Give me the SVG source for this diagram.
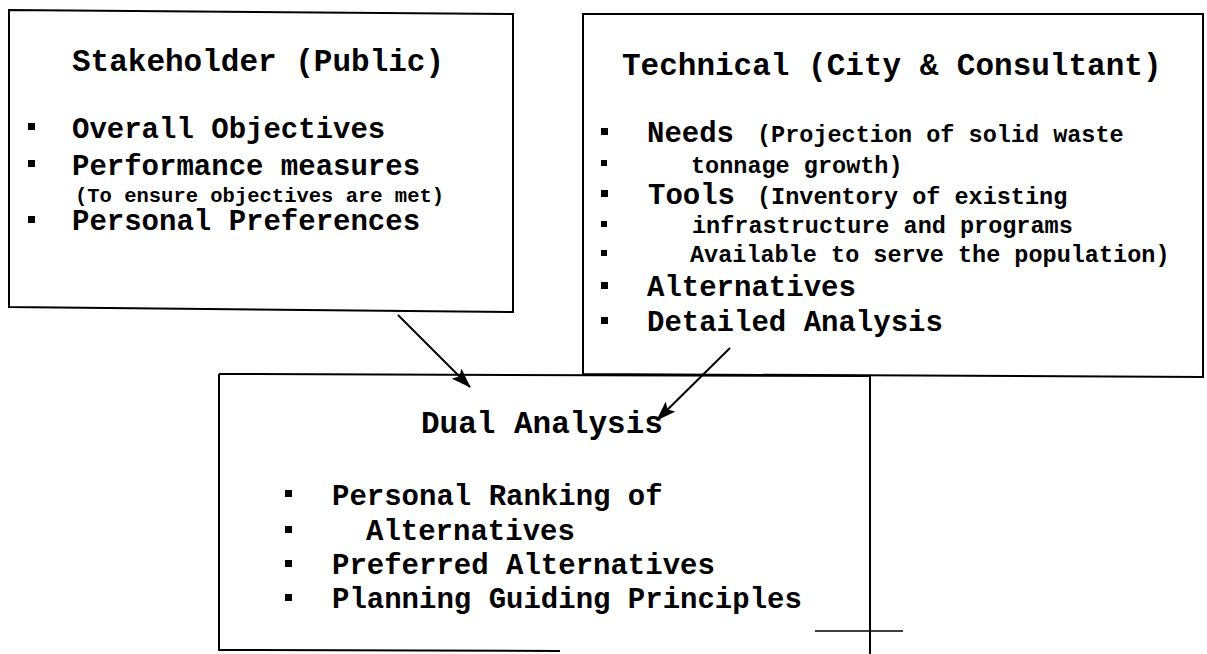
<svg xmlns="http://www.w3.org/2000/svg" width="1207" height="654" viewBox="0 0 1207 654">
  <defs>
    <style>
      .box { fill: none; stroke: #000; stroke-width: 2; }
      .ln { fill: none; stroke: #000; stroke-width: 2; }
      text { font-family: "Liberation Mono", "Courier New", monospace; font-weight: bold; fill: #000; }
      .title { font-size: 31px; }
      .item { font-size: 29px; }
      .small { font-size: 23.5px; }
      .tiny { font-size: 20.5px; }
      .bul { fill: #000; }
    </style>
    <marker id="arrow" viewBox="0 0 20 14" refX="19" refY="7" markerWidth="20" markerHeight="14" markerUnits="userSpaceOnUse" orient="auto">
      <path d="M0,0 L20,7 L0,14 L4,7 Z" fill="#000"/>
    </marker>
  </defs>
  <rect width="1207" height="654" fill="#fff"/>

  <g id="stakeholder">
    <path class="box" d="M9,10 L513,14 L513,312 L9,307 Z"/>
    <text class="title" x="72" y="71">Stakeholder (Public)</text>
    <rect class="bul" x="28" y="123" width="7" height="7"/>
    <text class="item" x="72" y="138">Overall Objectives</text>
    <rect class="bul" x="28" y="160" width="7" height="7"/>
    <text class="item" x="72" y="175">Performance measures</text>
    <text class="tiny" x="75" y="202">(To ensure objectives are met)</text>
    <rect class="bul" x="28" y="216" width="7" height="7"/>
    <text class="item" x="72" y="230">Personal Preferences</text>
  </g>

  <g id="technical">
    <path class="box" d="M583,14 L1203,14 L1203,377 L583,374 Z"/>
    <text class="title" x="622" y="75">Technical (City &amp; Consultant)</text>
    <rect class="bul" x="601" y="128" width="7" height="7"/>
    <text x="647" y="142"><tspan class="item">Needs</tspan><tspan class="small" x="757">(Projection of solid waste</tspan></text>
    <rect class="bul" x="601" y="160" width="6" height="6"/>
    <text class="small" x="691" y="173">tonnage growth)</text>
    <rect class="bul" x="601" y="190" width="7" height="7"/>
    <text x="648" y="204"><tspan class="item">Tools</tspan><tspan class="small" x="757">(Inventory of existing</tspan></text>
    <rect class="bul" x="601" y="221" width="6" height="6"/>
    <text class="small" x="692" y="233">infrastructure and programs</text>
    <rect class="bul" x="601" y="250" width="6" height="6"/>
    <text class="small" x="690" y="262">Available to serve the population)</text>
    <rect class="bul" x="601" y="282" width="7" height="7"/>
    <text class="item" x="647" y="296">Alternatives</text>
    <rect class="bul" x="601" y="317" width="7" height="7"/>
    <text class="item" x="647" y="331">Detailed Analysis</text>
  </g>

  <g id="dual">
    <path class="box" d="M219,374 L870,376 L870,654"/>
    <path class="box" d="M219,374 L219,650 L560,651"/>
    <path class="ln" d="M815,631 L903,631" style="stroke-width:1.5"/>
    <text class="title" x="421" y="433">Dual Analysis</text>
    <rect class="bul" x="285" y="490" width="7" height="7"/>
    <text class="item" x="332" y="505">Personal Ranking of</text>
    <rect class="bul" x="285" y="526" width="7" height="7"/>
    <text class="item" x="366" y="540">Alternatives</text>
    <rect class="bul" x="285" y="560" width="7" height="7"/>
    <text class="item" x="332" y="574">Preferred Alternatives</text>
    <rect class="bul" x="285" y="594" width="7" height="7"/>
    <text class="item" x="332" y="608">Planning Guiding Principles</text>
  </g>

  <g id="connectors">
    <line class="ln" x1="398" y1="315" x2="470" y2="387" marker-end="url(#arrow)"/>
    <line class="ln" x1="730" y1="348" x2="657" y2="420" marker-end="url(#arrow)"/>
  </g>
</svg>
